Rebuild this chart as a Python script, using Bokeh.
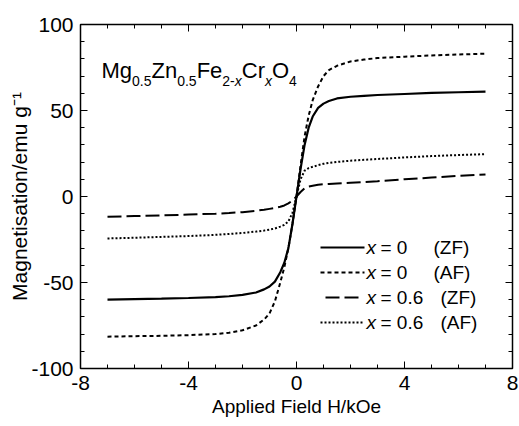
from bokeh.plotting import figure
from bokeh.models import FixedTicker, LinearAxis, Label, Arrow, Range1d
from bokeh.embed import file_html
from bokeh.resources import INLINE

# ---------------- data ----------------
H = [-7, -6, -5, -4, -3, -2.5, -2, -1.5, -1.2, -1, -0.8, -0.6, -0.45, -0.3, -0.15,
     0, 0.15, 0.3, 0.45, 0.6, 0.8, 1, 1.2, 1.5, 2, 2.5, 3, 4, 5, 6, 7]

m_x0_zf = [-60.0, -59.7, -59.4, -59.0, -58.5, -58.0, -57.2, -55.8, -54.0, -52.3, -49.5, -44.0, -38.5, -30.0, -16.0,
           0.0, 16.0, 30.0, 40.0, 46.5, 51.5, 54.0, 55.5, 57.0, 58.0, 58.5, 59.0, 59.6, 60.2, 60.6, 61.0]
m_x0_af = [-81.5, -81.2, -81.0, -80.6, -80.0, -79.2, -77.8, -75.0, -71.5, -68.0, -61.0, -50.0, -41.0, -30.0, -16.0,
           0.0, 18.0, 35.0, 47.0, 56.0, 64.0, 70.0, 73.5, 76.0, 78.5, 79.6, 80.5, 81.3, 82.0, 82.6, 83.0]
m_x06_zf = [-11.8, -11.4, -11.0, -10.5, -10.0, -9.6, -9.1, -8.3, -7.7, -7.2, -6.7, -6.0, -5.2, -4.0, -2.3,
            0.0, 2.6, 4.8, 5.8, 6.3, 6.8, 7.1, 7.3, 7.6, 8.0, 8.4, 8.9, 10.0, 11.0, 12.0, 12.8]
m_x06_af = [-24.4, -24.0, -23.5, -23.0, -22.3, -21.8, -21.2, -20.4, -19.8, -19.3, -18.6, -17.5, -16.5, -14.5, -9.5,
            0.0, 10.0, 15.0, 16.5, 17.3, 18.2, 19.0, 19.5, 20.1, 20.8, 21.3, 21.8, 22.7, 23.5, 24.1, 24.6]

series_x = ["0", "0", "0.6", "0.6"]
series_cond = ["(ZF)", "(AF)", "(ZF)", "(AF)"]
x_ticks = [-8, -4, 0, 4, 8]
y_ticks = [-100, -50, 0, 50, 100]
x_title = "Applied Field H/kOe"
y_title = "Magnetisation/emu g\u207b\u00b9"

# ---------------- layout ----------------
W, HGT = 519, 426
FL, FR, FT, FB = 80, 512, 24, 368
XR = (-8, 8)
YR = (-100, 100)
FONT = "Liberation Sans"

def dx(px):
    return XR[0] + (px - FL) / (FR - FL) * (XR[1] - XR[0])

def dy(py):
    return YR[1] - (py - FT) / (FB - FT) * (YR[1] - YR[0])

AW = {"M": 833, "g": 556, "Z": 611, "n": 556, "F": 611, "e": 556, "C": 722, "r": 333,
      "O": 778, "0": 556, "1": 556, "2": 556, "4": 556, "5": 556, "6": 556, ".": 278, "-": 333,
      "x": 500}

def tw(s, size):
    return sum(AW.get(c, 556) for c in s) * size / 1000.0

p = figure(width=W, height=HGT, x_range=Range1d(*XR), y_range=Range1d(*YR),
           output_backend="svg", toolbar_location=None,
           min_border_left=FL, min_border_right=W - FR, min_border_top=FT,
           min_border_bottom=HGT - FB)
p.xgrid.visible = False
p.ygrid.visible = False
p.outline_line_color = "black"
p.outline_line_width = 1.5
p.background_fill_color = "white"
p.border_fill_color = "white"

xt = FixedTicker(ticks=x_ticks, minor_ticks=list(range(-8, 9)))
yt = FixedTicker(ticks=y_ticks, minor_ticks=list(range(-100, 101, 10)))

for ax, tk, ticks in ((p.xaxis[0], xt, x_ticks), (p.yaxis[0], yt, y_ticks)):
    ax.ticker = tk
    ax.major_tick_in = 7
    ax.major_tick_out = 0
    ax.minor_tick_in = 4
    ax.minor_tick_out = 0
    ax.axis_line_color = "black"
    ax.major_tick_line_color = "black"
    ax.minor_tick_line_color = "black"
    ax.major_label_text_font = FONT
    ax.major_label_text_font_size = "21px"
    ax.major_label_text_color = "black"
    ax.major_label_standoff = 7
    ax.major_label_overrides = {t: str(t) for t in ticks}
    ax.axis_label_text_font = FONT
    ax.axis_label_text_font_style = "normal"
    ax.axis_label_text_color = "black"

p.xaxis[0].axis_label = x_title
p.xaxis[0].axis_label_text_font_size = "19px"
p.xaxis[0].axis_label_standoff = 3
p.yaxis[0].axis_label = y_title
p.yaxis[0].axis_label_text_font_size = "21px"
p.yaxis[0].axis_label_standoff = -3

for loc, tk in (("right", yt), ("above", xt)):
    a = LinearAxis(ticker=tk, major_tick_in=7, major_tick_out=0, minor_tick_in=4,
                   minor_tick_out=0, major_label_text_font_size="1px",
                   major_label_text_color=None, major_label_standoff=0,
                   axis_line_color="black")
    p.add_layout(a, loc)

# curves
styles = [("solid", 2.2), ("4 3", 2), ("14 5", 2), ("2 2", 2)]
for ys, (dash, lw) in zip([m_x0_zf, m_x0_af, m_x06_zf, m_x06_af], styles):
    p.line(H, ys, line_color="black", line_width=lw, line_dash=dash)

# title formula
parts = [("Mg", "m", False), ("0.5", "s", False), ("Zn", "m", False), ("0.5", "s", False),
         ("Fe", "m", False), ("2-", "s", False), ("x", "s", True), ("Cr", "m", False),
         ("x", "s", True), ("O", "m", False), ("4", "s", False)]
cx = 101
for txt, kind, ital in parts:
    size = 22 if kind == "m" else 14
    mid = 70 if kind == "m" else 80
    p.add_layout(Label(x=dx(cx), y=dy(mid), text=txt, text_font=FONT,
                       text_font_size=f"{size}px", text_baseline="middle",
                       text_font_style="italic" if ital else "normal", text_color="black"))
    cx += tw(txt, size)

# legend (manual, to allow italic x)
rows_y = [247, 272, 297, 322]
for i, (dash, lw) in enumerate(styles):
    yy = dy(rows_y[i])
    x0 = 320 if i != 2 else 325
    x1 = 364 if i != 2 else 360
    p.add_layout(Arrow(x_start=dx(x0), y_start=yy, x_end=dx(x1), y_end=yy, end=None,
                       line_color="black", line_width=lw, line_dash=dash))
    p.add_layout(Label(x=dx(366), y=yy, text="x", text_font=FONT, text_font_size="19px",
                       text_font_style="italic", text_baseline="middle", text_color="black"))
    p.add_layout(Label(x=dx(380), y=yy, text="= " + series_x[i], text_font=FONT,
                       text_font_size="19px", text_baseline="middle", text_color="black"))
    cond_x = 433 if series_x[i] == "0" else 440
    p.add_layout(Label(x=dx(cond_x), y=yy, text=series_cond[i], text_font=FONT,
                       text_font_size="19px", text_baseline="middle", text_color="black"))

open("out.html", "w").write(file_html(p, INLINE))
